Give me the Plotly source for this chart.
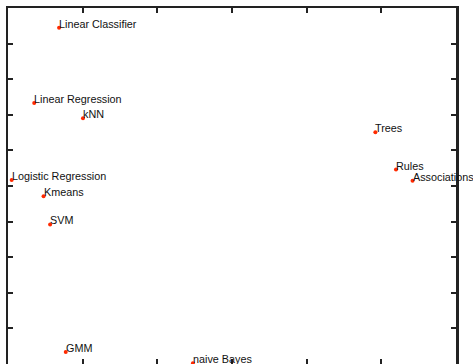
import plotly.graph_objects as go

names = ["Linear Classifier", "Linear Regression", "kNN", "Logistic Regression",
         "Kmeans", "SVM", "GMM", "naive Bayes", "Trees", "Rules", "Associations"]
xs = [0.684, 0.351, 1.004, 0.049, 0.476, 0.564, 0.773, 2.476, 4.92, 5.196, 5.418]
ys = [9.448, 7.33, 6.90, 5.17, 4.71, 3.92, 0.34, 0.02, 6.51, 5.46, 5.15]

x_ticks = [1, 2, 3, 4, 5]
y_ticks = [1, 2, 3, 4, 5, 6, 7, 8, 9]

fig = go.Figure()
fig.add_trace(go.Scatter(
    x=xs, y=ys, mode="markers",
    marker=dict(color="#ff2a00", size=4),
    cliponaxis=False, hoverinfo="skip", showlegend=False,
))
# invisible trace to activate top/right axes
fig.add_trace(go.Scatter(x=[None], y=[None], xaxis="x2", yaxis="y2", showlegend=False))

for n, x, y in zip(names, xs, ys):
    fig.add_annotation(x=x, y=y, text=n, showarrow=False, xanchor="left",
                       yanchor="bottom", xshift=-2, yshift=-4,
                       font=dict(family="Liberation Sans, Arial, sans-serif",
                                 size=10.8, color="#111111"))

common = dict(ticks="inside", ticklen=5, tickwidth=1.5, tickcolor="#222222",
              showticklabels=False, showgrid=False, zeroline=False)
fig.update_layout(
    width=473, height=364,
    margin=dict(l=8, r=17, t=8, b=0),
    paper_bgcolor="white", plot_bgcolor="white",
    xaxis=dict(range=[0, 6], tickvals=x_ticks, showline=False, **common),
    xaxis2=dict(range=[0, 6], tickvals=x_ticks, overlaying="x", side="top",
                showline=True, linewidth=2, linecolor="#222222", **common),
    yaxis=dict(range=[0, 10], tickvals=y_ticks, showline=True, linewidth=2,
               linecolor="#222222", **common),
    yaxis2=dict(range=[0, 10], tickvals=y_ticks, overlaying="y", side="right",
                showline=True, linewidth=2.5, linecolor="#222222", **common),
)
fig.write_html("out.html", config={"displayModeBar": False},
               post_script="document.body.style.margin='0';document.body.style.overflow='hidden';")
